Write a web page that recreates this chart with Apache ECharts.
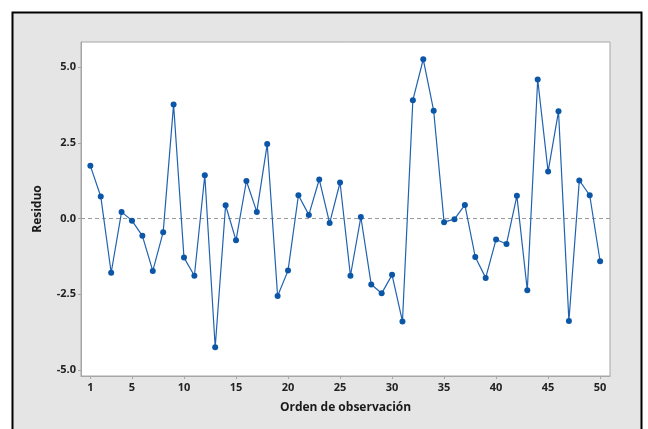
<!DOCTYPE html>
<html>
<head>
<meta charset="utf-8">
<script src="https://cdn.jsdelivr.net/npm/echarts@6/dist/echarts.min.js"></script>
<style>
html,body{margin:0;padding:0;background:#ffffff;}
#chart{width:648px;height:429px;}
</style>
</head>
<body>
<div id="chart"></div>
<script>
var xTicks = [1, 5, 10, 15, 20, 25, 30, 35, 40, 45, 50];
var yTicks = [-5, -2.5, 0, 2.5, 5];
var orden = [];
for (var i = 1; i <= 50; i++) orden.push(i);
var residuo = [
  1.74, 0.73, -1.79, 0.22, -0.07, -0.57, -1.73, -0.45, 3.77, -1.29,
  -1.89, 1.43, -4.25, 0.44, -0.72, 1.24, 0.22, 2.46, -2.56, -1.72,
  0.77, 0.12, 1.29, -0.15, 1.19, -1.89, 0.05, -2.18, -2.47, -1.86,
  -3.40, 3.91, 5.26, 3.56, -0.12, -0.02, 0.45, -1.27, -1.96, -0.69,
  -0.84, 0.75, -2.37, 4.59, 1.55, 3.54, -3.38, 1.26, 0.77, -1.41
];
var refValue = 0;
var xMin = 0.1, xMax = 50.95, yMin = -5.2, yMax = 5.83;

var chart = echarts.init(document.getElementById('chart'), null, {renderer: 'canvas'});
var font = '"Open Sans", "Noto Sans", sans-serif';
var pts = orden.map(function (o, k) { return [o, residuo[k]]; });

chart.setOption({
  animation: false,
  backgroundColor: '#ffffff',
  graphic: [{
    type: 'rect',
    z: -10,
    shape: {x: 12.5, y: 12.5, width: 629, height: 440},
    style: {fill: '#e5e5e5', stroke: '#000000', lineWidth: 2}
  }],
  grid: {
    left: 81, top: 42, right: 38, bottom: 53,
    show: true, backgroundColor: '#ffffff', borderColor: '#a6a6a6', borderWidth: 1
  },
  xAxis: {
    type: 'value',
    min: xMin, max: xMax,
    name: 'Orden de observación',
    nameLocation: 'middle',
    nameGap: 26,
    nameTextStyle: {fontFamily: font, fontSize: 12, fontWeight: 'bold', color: '#1a1a1a'},
    axisLine: {show: true, onZero: false, lineStyle: {color: '#a6a6a6', width: 1}},
    axisTick: {show: true, length: 3, customValues: xTicks, lineStyle: {color: '#a6a6a6'}},
    axisLabel: {customValues: xTicks, fontFamily: font, fontSize: 11, fontWeight: 'bold', color: '#222222', margin: 6},
    splitLine: {show: false}
  },
  yAxis: {
    type: 'value',
    min: yMin, max: yMax,
    name: 'Residuo',
    nameLocation: 'middle',
    nameGap: 37,
    nameTextStyle: {fontFamily: font, fontSize: 12, fontWeight: 'bold', color: '#1a1a1a'},
    axisLine: {show: true, onZero: false, lineStyle: {color: '#a6a6a6', width: 1}},
    axisTick: {show: true, length: 3, customValues: yTicks, lineStyle: {color: '#a6a6a6'}},
    axisLabel: {customValues: yTicks, fontFamily: font, fontSize: 11, fontWeight: 'bold', color: '#222222', margin: 5,
      formatter: function (v) { return v.toFixed(1); }},
    splitLine: {show: false}
  },
  series: [{
    type: 'line',
    data: [[xMin, refValue], [xMax, refValue]],
    z: 1,
    symbol: 'none',
    silent: true,
    lineStyle: {color: '#999999', type: [4, 3], width: 1}
  }, {
    type: 'line',
    data: pts,
    symbol: 'circle',
    symbolSize: 6,
    z: 3,
    lineStyle: {color: '#1f62b0', width: 1.2},
    itemStyle: {color: '#0b56a6'}
  }]
});
</script>
</body>
</html>
